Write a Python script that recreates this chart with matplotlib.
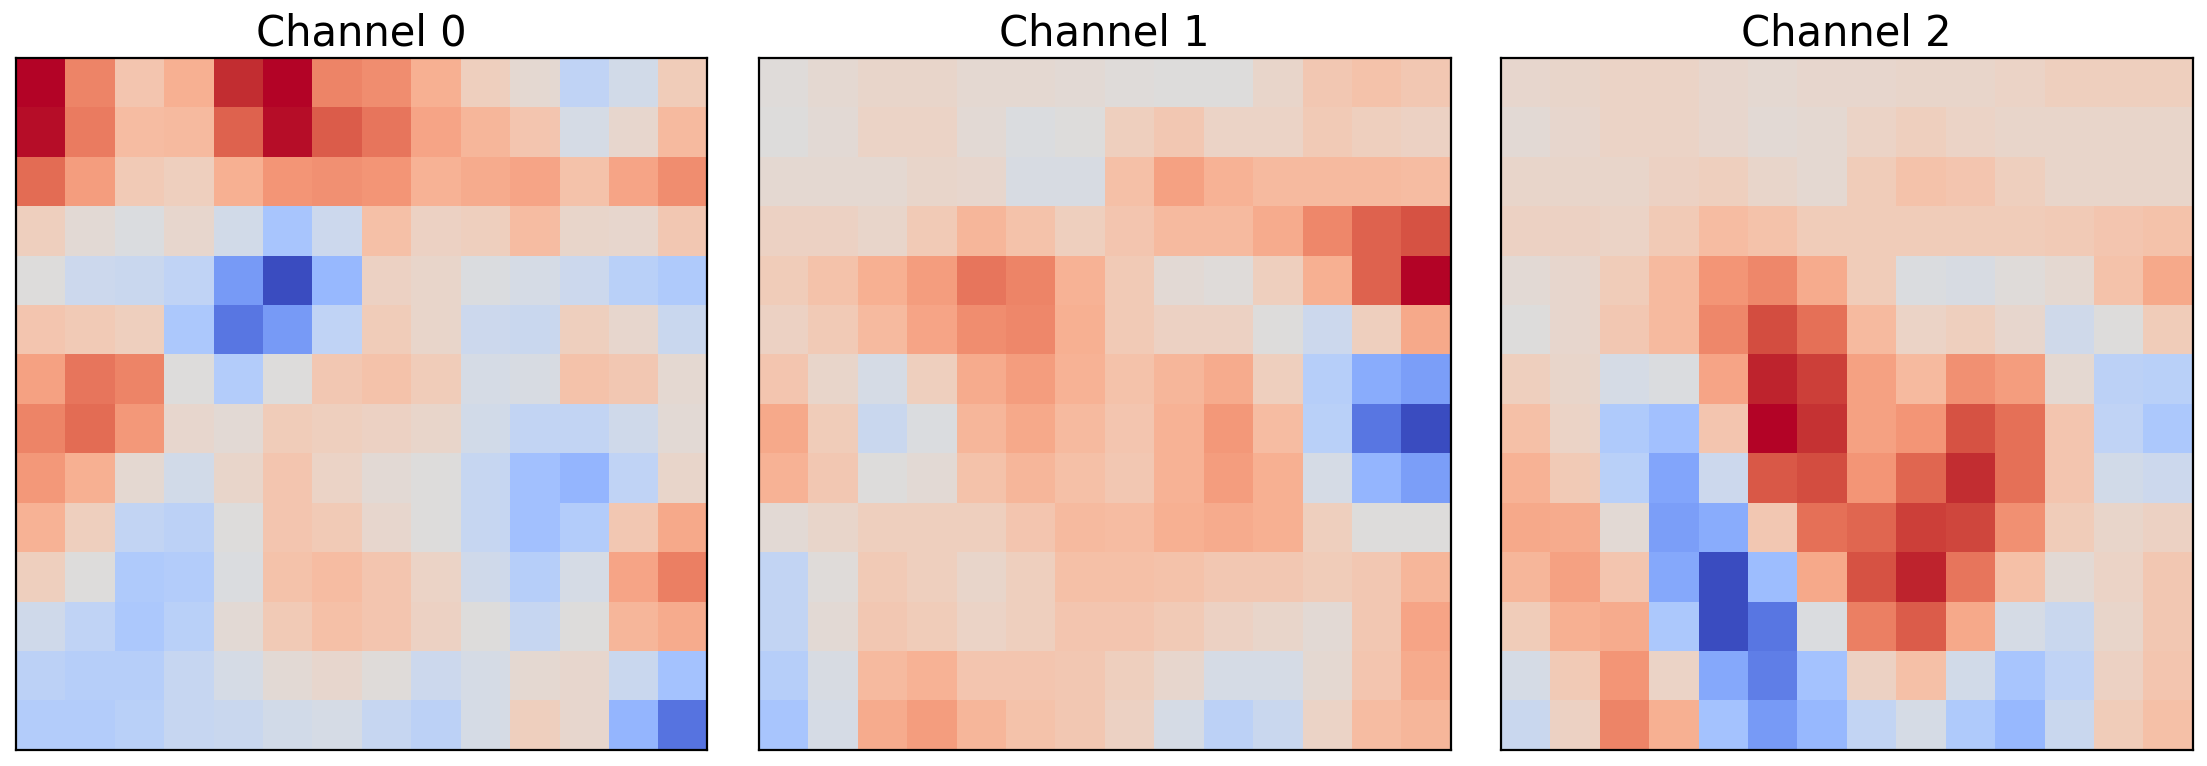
import numpy as np
import matplotlib
matplotlib.use("Agg")
import matplotlib.pyplot as plt

channel_0 = [
    [1.00, .80, .62, .69, .96, 1.00, .80, .78, .69, .58, .53, .40, .46, .59],
    [.99, .82, .65, .66, .87, .99, .88, .83, .72, .67, .62, .47, .54, .66],
    [.85, .74, .60, .58, .69, .76, .77, .76, .68, .70, .72, .63, .72, .78],
    [.58, .52, .49, .54, .46, .33, .44, .64, .57, .58, .65, .55, .54, .61],
    [.50, .44, .43, .40, .19, .00, .28, .57, .55, .49, .47, .44, .38, .35],
    [.62, .60, .58, .34, .10, .19, .40, .59, .55, .44, .43, .58, .54, .43],
    [.73, .83, .80, .50, .36, .50, .61, .63, .59, .47, .48, .63, .61, .53],
    [.80, .85, .75, .54, .52, .59, .58, .57, .55, .46, .41, .41, .45, .52],
    [.75, .69, .53, .46, .55, .62, .56, .52, .50, .42, .31, .27, .40, .55],
    [.68, .58, .41, .39, .50, .62, .60, .54, .50, .42, .31, .36, .61, .71],
    [.58, .50, .35, .36, .49, .63, .65, .62, .56, .45, .37, .47, .72, .81],
    [.45, .40, .34, .38, .52, .60, .64, .62, .57, .50, .42, .50, .67, .70],
    [.39, .37, .37, .42, .47, .52, .54, .51, .44, .47, .53, .54, .43, .32],
    [.36, .36, .38, .42, .43, .46, .47, .42, .39, .47, .58, .54, .27, .09],
]
channel_1 = [
    [.51, .53, .55, .55, .53, .53, .52, .51, .50, .50, .55, .61, .63, .61],
    [.50, .52, .56, .56, .52, .49, .50, .58, .61, .56, .56, .60, .58, .57],
    [.53, .53, .53, .55, .54, .48, .48, .64, .73, .68, .66, .66, .66, .65],
    [.57, .57, .55, .60, .67, .63, .58, .62, .66, .66, .70, .79, .87, .90],
    [.59, .63, .69, .74, .83, .80, .68, .60, .52, .51, .58, .69, .87, 1.00],
    [.57, .60, .66, .72, .78, .79, .69, .60, .57, .57, .50, .44, .58, .71],
    [.62, .55, .47, .58, .70, .74, .68, .63, .67, .70, .58, .37, .24, .20],
    [.71, .59, .43, .49, .67, .71, .66, .62, .68, .75, .65, .38, .10, .00],
    [.68, .61, .50, .52, .63, .67, .64, .61, .68, .74, .69, .47, .27, .20],
    [.52, .55, .58, .58, .58, .62, .66, .65, .69, .70, .69, .58, .50, .50],
    [.41, .51, .60, .58, .55, .58, .64, .64, .63, .61, .61, .59, .61, .67],
    [.41, .52, .61, .59, .56, .58, .62, .62, .60, .57, .55, .52, .61, .72],
    [.37, .48, .66, .68, .62, .62, .61, .58, .54, .47, .47, .53, .62, .70],
    [.33, .47, .70, .74, .67, .63, .61, .57, .47, .39, .43, .56, .65, .67],
]
channel_2 = [
    [.54, .55, .56, .56, .54, .53, .54, .54, .55, .55, .56, .58, .58, .58],
    [.52, .54, .56, .56, .54, .52, .53, .56, .58, .56, .55, .55, .55, .55],
    [.55, .55, .55, .57, .58, .55, .53, .59, .63, .62, .58, .55, .55, .55],
    [.57, .57, .56, .60, .65, .63, .59, .59, .59, .59, .59, .60, .62, .63],
    [.52, .54, .59, .66, .76, .79, .70, .59, .49, .48, .51, .53, .63, .71],
    [.50, .54, .61, .66, .79, .91, .84, .66, .56, .58, .54, .45, .50, .59],
    [.58, .55, .47, .49, .72, .97, .93, .73, .66, .77, .74, .53, .39, .38],
    [.64, .56, .35, .31, .62, 1.00, .95, .73, .76, .90, .84, .62, .40, .34],
    [.68, .60, .38, .22, .44, .89, .91, .76, .86, .96, .84, .62, .46, .44],
    [.71, .70, .52, .20, .24, .61, .84, .86, .93, .92, .77, .59, .55, .57],
    [.67, .73, .62, .23, .00, .30, .71, .90, .97, .83, .64, .52, .56, .61],
    [.59, .69, .70, .34, .00, .10, .49, .81, .88, .71, .47, .43, .55, .61],
    [.47, .60, .76, .56, .23, .12, .32, .57, .64, .46, .33, .40, .57, .62],
    [.43, .57, .80, .69, .32, .19, .28, .41, .47, .35, .28, .43, .59, .64],
]
titles = ["Channel 0", "Channel 1", "Channel 2"]

W, H = 2207, 766
fig = plt.figure(figsize=(W / 200, H / 200), dpi=200)

# left edge of each panel in pixels, from the reference
lefts = [15.5, 758.5, 1500.5]
side = 692

for left, grid, title in zip(lefts, [channel_0, channel_1, channel_2], titles):
    ax = fig.add_axes([left / W, (H - 750) / H, side / W, side / H])
    ax.imshow(np.array(grid), cmap="coolwarm", vmin=0, vmax=1, aspect="auto")
    ax.set_xticks([])
    ax.set_yticks([])
    ax.set_title(title, fontsize=15, pad=4.5)

fig.savefig("out.png", dpi=200)
